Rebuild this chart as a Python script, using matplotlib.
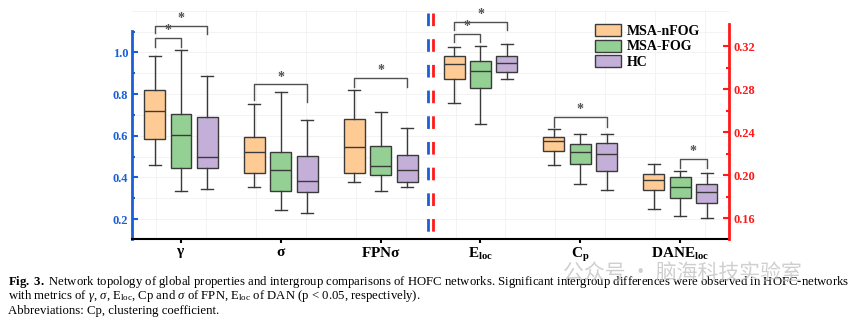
import matplotlib
matplotlib.use("Agg")
import matplotlib.pyplot as plt
from matplotlib.patches import Patch

plt.rcParams['font.family'] = ['Liberation Serif', 'DejaVu Serif']
plt.rcParams['mathtext.fontset'] = 'custom'
plt.rcParams['mathtext.rm'] = 'Liberation Serif'
plt.rcParams['mathtext.bf'] = 'Liberation Serif:bold'
plt.rcParams['mathtext.it'] = 'Liberation Serif:italic'
plt.rcParams['lines.scale_dashes'] = False

# ---------------- data ----------------
groups = ["MSA-nFOG", "MSA-FOG", "HC"]
colors = ["#FFCB94", "#94CF94", "#C4AFD8"]
categories = [r"$\mathbf{\gamma}$", r"$\mathbf{\sigma}$", r"$\mathbf{FPN\sigma}$",
              r"$\mathbf{E}_{\mathbf{loc}}$", r"$\mathbf{C}_{\mathbf{p}}$",
              r"$\mathbf{DANE}_{\mathbf{loc}}$"]

# per category: per group (whislo, q1, med, q3, whishi)
gamma = [(0.459, 0.582, 0.718, 0.819, 0.984),
         (0.333, 0.446, 0.605, 0.702, 1.011),
         (0.346, 0.443, 0.498, 0.691, 0.888)]
sigma = [(0.352, 0.421, 0.520, 0.592, 0.750),
         (0.242, 0.333, 0.435, 0.523, 0.811),
         (0.227, 0.330, 0.382, 0.502, 0.675)]
fpn_sigma = [(0.379, 0.421, 0.544, 0.680, 0.818),
             (0.333, 0.410, 0.456, 0.549, 0.712),
             (0.352, 0.376, 0.435, 0.507, 0.638)]
e_loc = [(0.2670, 0.2896, 0.3029, 0.3110, 0.3188),
         (0.2471, 0.2809, 0.2964, 0.3060, 0.3203),
         (0.2896, 0.2961, 0.3042, 0.3107, 0.3219)]
c_p = [(0.2090, 0.2226, 0.2316, 0.2350, 0.2425),
       (0.1919, 0.2099, 0.2217, 0.2291, 0.2381),
       (0.1857, 0.2034, 0.2198, 0.2301, 0.2381)]
dane_loc = [(0.1687, 0.1864, 0.1953, 0.2012, 0.2102),
            (0.1622, 0.1783, 0.1888, 0.1981, 0.2034),
            (0.1600, 0.1743, 0.1839, 0.1913, 0.2018)]

left_data = [gamma, sigma, fpn_sigma]      # left (blue) axis
right_data = [e_loc, c_p, dane_loc]        # right (red) axis

# significance brackets: (category, group_a, group_b, bar_y, leg_a, leg_b)
left_sig = [(0, 0, 1, 1.067, 1.027, 1.027),
            (0, 0, 2, 1.128, 1.091, 1.086),
            (1, 0, 2, 0.846, 0.771, 0.763),
            (2, 0, 2, 0.875, 0.832, 0.832)]
right_sig = [(3, 0, 1, 0.3312, 0.3240, 0.3240),
             (3, 0, 2, 0.3426, 0.3349, 0.3349),
             (4, 0, 2, 0.2537, 0.2450, 0.2450),
             (5, 1, 2, 0.2146, 0.2062, 0.2062)]

left_ticks = [0.2, 0.4, 0.6, 0.8, 1.0]
right_ticks = [0.16, 0.20, 0.24, 0.28, 0.32]

caption1 = (r"$\mathbf{Fig.\ 3.}$ Network topology of global properties and intergroup comparisons of HOFC networks. "
            r"Significant intergroup differences were observed in HOFC-networks")
caption2 = (r"with metrics of $\gamma$, $\sigma$, E$_{\rm loc}$, Cp and $\sigma$ of FPN, "
            r"E$_{\rm loc}$ of DAN (p < 0.05, respectively).")
caption3 = "Abbreviations: Cp, clustering coefficient."
watermark = "公众号 · 脑海科技实验室"

BLUE = "#1A5FD6"
RED = "#FF1A1A"
EDGE = "#3A3A3A"
offsets = [-0.265, 0.0, 0.265]
bw = 0.21

# ---------------- figure ----------------
fig = plt.figure(figsize=(8.64, 3.19), dpi=100)
ax = fig.add_axes([0.1531, 0.2498, 0.6912, 0.7188])
ax2 = ax.twinx()

def draw(axis, data, start):
    for ci, cat in enumerate(data):
        for gi, (lo, q1, med, q3, hi) in enumerate(cat):
            st = dict(whislo=lo, q1=q1, med=med, q3=q3, whishi=hi, fliers=[])
            axis.bxp([st], positions=[start + ci + offsets[gi]], widths=bw,
                     capwidths=0.12, patch_artist=True, showfliers=False,
                     boxprops=dict(facecolor=colors[gi], edgecolor=EDGE, linewidth=1.0),
                     medianprops=dict(color=EDGE, linewidth=1.0),
                     whiskerprops=dict(color=EDGE, linewidth=1.0),
                     capprops=dict(color=EDGE, linewidth=1.0),
                     manage_ticks=False)

draw(ax, left_data, 0)
draw(ax2, right_data, 3)

def brackets(axis, sig, top_range):
    for ci, a, b, yb, la, lb in sig:
        xa = ci + offsets[a]
        xb = ci + offsets[b]
        axis.plot([xa, xa, xb, xb], [la, yb, yb, lb], color="#505050", lw=1.0,
                  clip_on=False, zorder=5)
        axis.text((xa + xb) / 2, yb + top_range * 0.004, "*", ha="center", va="bottom",
                  fontsize=10, fontweight="bold", color="#505050")

brackets(ax, left_sig, 1.1)
brackets(ax2, right_sig, 0.21)

ax.set_xlim(-0.488, 5.494)
ax.set_ylim(0.1025, 1.2032)
ax2.set_ylim(0.1402, 0.3535)

# faint grid
ax.set_axisbelow(True)
for gx in [i * 0.5 - 0.25 for i in range(13)]:
    ax.axvline(gx, color="#F1F1F1", lw=0.6, zorder=0)
for gy in [0.1 + 0.1 * i for i in range(12)]:
    ax.axhline(gy, color="#F1F1F1", lw=0.6, zorder=0)

# divider
xt = ax.get_xaxis_transform()
ax.plot([2.478, 2.478], [0.987, 0.032], color=BLUE, lw=2.0, dashes=(9.1, 9.4), transform=xt, clip_on=False)
ax.plot([2.522, 2.522], [0.987, 0.032], color=RED, lw=2.0, dashes=(9.1, 9.4), transform=xt, clip_on=False)

# spines
for s in ["top"]:
    ax.spines[s].set_visible(False)
    ax2.spines[s].set_visible(False)
ax.spines["right"].set_visible(False)
ax2.spines["left"].set_visible(False)
ax2.spines["bottom"].set_visible(False)
ax.spines["left"].set_color(BLUE)
ax.spines["left"].set_linewidth(2.0)
ax.spines["left"].set_bounds(0.1025, 1.102)
ax2.spines["right"].set_color(RED)
ax2.spines["right"].set_linewidth(2.0)
ax2.spines["right"].set_bounds(0.1402, 0.3405)
ax.spines["bottom"].set_color("black")
ax.spines["bottom"].set_linewidth(1.5)

ax.set_yticks(left_ticks)
ax.set_yticks([0.3, 0.5, 0.7, 0.9, 1.1], minor=True)
ax.set_yticklabels([f"{v:.1f}" for v in left_ticks])
ax.tick_params(axis="y", which="both", direction="in", colors=BLUE, width=1.5,
               labelsize=9, pad=3)
ax.tick_params(axis="y", which="major", length=4)
ax.tick_params(axis="y", which="minor", length=2.5)
for t in ax.get_yticklabels():
    t.set_fontweight("bold")

ax2.set_yticks(right_ticks)
ax2.set_yticks([0.18, 0.22, 0.26, 0.30], minor=True)
ax2.set_yticklabels([f"{v:.2f}" for v in right_ticks])
ax2.tick_params(axis="y", which="both", direction="in", colors=RED, width=1.5,
                labelsize=9, pad=3)
ax2.tick_params(axis="y", which="major", length=4)
ax2.tick_params(axis="y", which="minor", length=2.5)
for t in ax2.get_yticklabels():
    t.set_fontweight("bold")

ax.set_xticks(range(6))
ax.set_xticklabels(categories)
ax.tick_params(axis="x", direction="out", length=3, width=1.5, labelsize=11, pad=2,
               colors="black")
ax.tick_params(axis="x", which="minor", bottom=False)

handles = [Patch(facecolor=c, edgecolor=EDGE, linewidth=1.0) for c in colors]
leg = ax.legend(handles, groups, loc="upper left", bbox_to_anchor=(0.775, 0.94),
                frameon=False, handlelength=1.9, handleheight=0.95, handletextpad=0.4,
                labelspacing=0.15, borderaxespad=0, borderpad=0,
                prop=dict(family="Liberation Serif", weight="bold", size=10))

# caption
fig.text(8 / 864, 1 - 282 / 319, caption1, fontsize=9.2, va="center", ha="left")
fig.text(8 / 864, 1 - 296 / 319, caption2, fontsize=9.2, va="center", ha="left")
fig.text(8 / 864, 1 - 311 / 319, caption3, fontsize=9.2, va="center", ha="left")
fig.text(563 / 864, 1 - 273 / 319, watermark, fontsize=15, va="center", ha="left",
         color="#C4C4C4", alpha=0.8, family=["Noto Sans CJK SC", "DejaVu Sans"])

fig.savefig("out.png", dpi=100)
